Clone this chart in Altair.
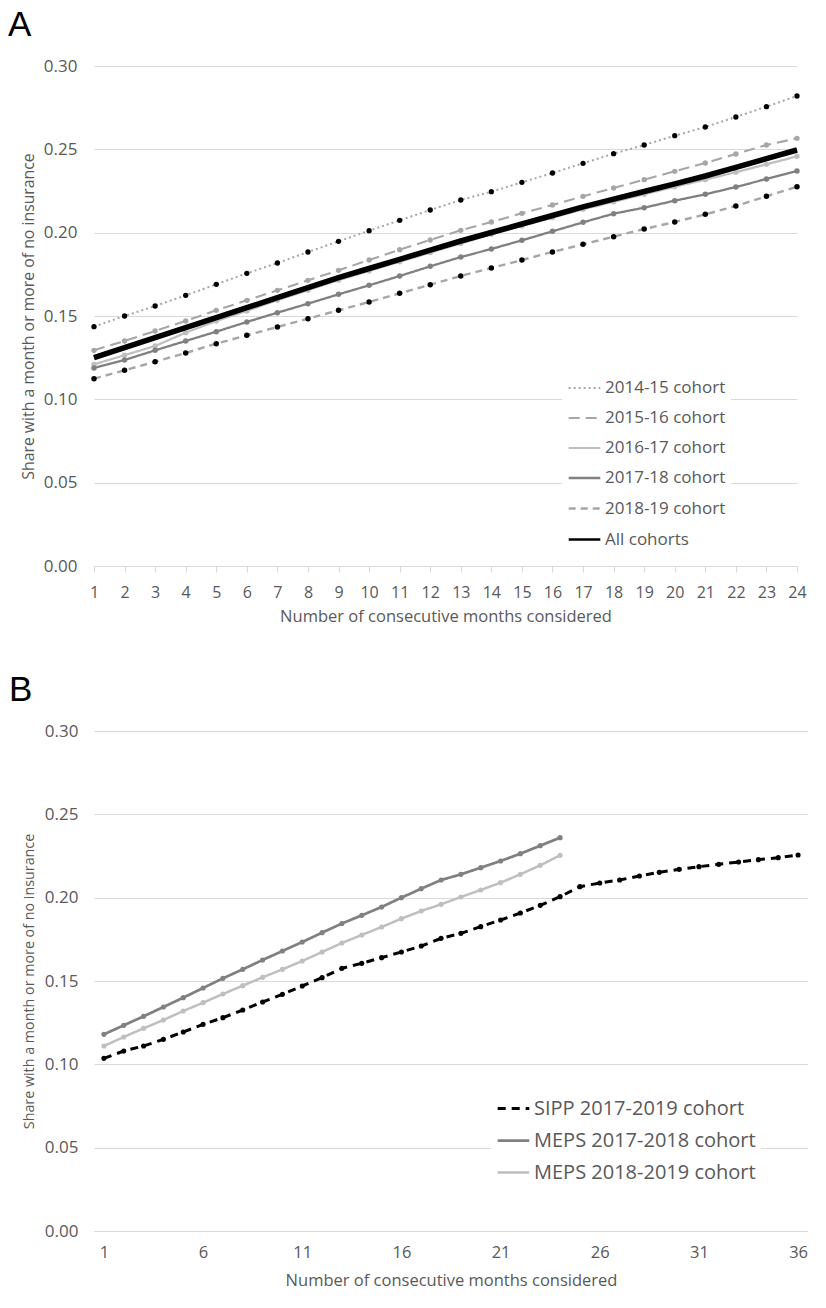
import altair as alt
import pandas as pd

# ---------------- Panel A data ----------------
months_a = list(range(1, 25))
series_a = ["2014-15 cohort", "2015-16 cohort", "2016-17 cohort",
            "2017-18 cohort", "2018-19 cohort", "All cohorts"]
c1415 = [0.1436, 0.150, 0.156, 0.1624, 0.169, 0.1756, 0.1818, 0.1884, 0.1948, 0.2012, 0.2074, 0.2136,
         0.2196, 0.2246, 0.2302, 0.2358, 0.2416, 0.2474, 0.2526, 0.2582, 0.2634, 0.2694, 0.2756, 0.282]
c1516 = [0.1294, 0.135, 0.141, 0.147, 0.1534, 0.1594, 0.1654, 0.1714, 0.1774, 0.1836, 0.1898, 0.1956,
         0.2014, 0.2064, 0.2116, 0.2166, 0.2218, 0.2268, 0.2318, 0.2368, 0.2418, 0.2472, 0.2526, 0.2566]
c1617 = [0.121, 0.1265, 0.132, 0.140, 0.147, 0.153, 0.1595, 0.1655, 0.1715, 0.177, 0.1825, 0.188,
         0.1935, 0.199, 0.204, 0.209, 0.214, 0.2185, 0.223, 0.2275, 0.2318, 0.2363, 0.241, 0.2458]
c1718 = [0.1188, 0.1236, 0.1294, 0.135, 0.1406, 0.1464, 0.152, 0.1574, 0.163, 0.1684, 0.174, 0.1798,
         0.1854, 0.1902, 0.1954, 0.2008, 0.2062, 0.2114, 0.215, 0.2192, 0.223, 0.2274, 0.2322, 0.237]
c1819 = [0.1124, 0.1174, 0.1226, 0.1278, 0.1334, 0.1384, 0.1434, 0.1484, 0.1534, 0.1584, 0.1636, 0.1688,
         0.174, 0.1788, 0.1836, 0.1884, 0.193, 0.1976, 0.2022, 0.2064, 0.211, 0.216, 0.2218, 0.2276]
call = [0.125, 0.131, 0.137, 0.143, 0.149, 0.155, 0.161, 0.167, 0.173, 0.1785, 0.184, 0.1895,
        0.195, 0.2001, 0.2052, 0.2103, 0.2155, 0.2201, 0.2247, 0.2293, 0.234, 0.2392, 0.2444, 0.2496]

# ---------------- Panel B data ----------------
months_b_sipp = list(range(1, 37))
months_b_meps = list(range(1, 25))
series_b = ["SIPP 2017-2019 cohort", "MEPS 2017-2018 cohort", "MEPS 2018-2019 cohort"]
sipp = [0.1036, 0.108, 0.111, 0.115, 0.1194, 0.124, 0.128, 0.1326, 0.1374, 0.142, 0.147, 0.152,
        0.1576, 0.1606, 0.164, 0.1674, 0.171, 0.1756, 0.1786, 0.1826, 0.1866, 0.1908, 0.1954, 0.2006,
        0.2066, 0.2088, 0.2106, 0.213, 0.2152, 0.217, 0.2186, 0.220, 0.2214, 0.2228, 0.224, 0.2256]
meps1718 = [0.118, 0.1234, 0.1288, 0.1344, 0.140, 0.1458, 0.1516, 0.157, 0.1626, 0.168, 0.1734, 0.179,
            0.1845, 0.1894, 0.1944, 0.200, 0.2054, 0.2106, 0.214, 0.218, 0.222, 0.2264, 0.2312, 0.236]
meps1819 = [0.111, 0.1164, 0.1216, 0.1266, 0.132, 0.137, 0.1422, 0.1472, 0.1522, 0.157, 0.162, 0.1674,
            0.1728, 0.1776, 0.1824, 0.1874, 0.192, 0.196, 0.2004, 0.2046, 0.209, 0.214, 0.2194, 0.2254]

y_ticks = [0.0, 0.05, 0.10, 0.15, 0.20, 0.25, 0.30]
x_ticks_b = [1, 6, 11, 16, 21, 26, 31, 36]

y_title = "Share with a month or more of no insurance"
x_title = "Number of consecutive months considered"

FONT = "Open Sans"
TXT = "#595959"
GRID = "#D9D9D9"

# ---------------- build tables ----------------
rows = []
for name, vals in zip(series_a, [c1415, c1516, c1617, c1718, c1819, call]):
    for m, v in zip(months_a, vals):
        rows.append({"month": m, "share": v, "series": name})
df_a = pd.DataFrame(rows)

rows = []
for name, ms, vals in zip(series_b, [months_b_sipp, months_b_meps, months_b_meps], [sipp, meps1718, meps1819]):
    for m, v in zip(ms, vals):
        rows.append({"month": m, "share": v, "series": name})
df_b = pd.DataFrame(rows)

# ---------------- Panel A ----------------
ya = alt.Y("share:Q", scale=alt.Scale(domain=[0, 0.30], nice=False),
           axis=alt.Axis(values=y_ticks, format=".2f", title=y_title, grid=True, gridColor=GRID,
                         domain=False, ticks=False, labelPadding=17, labelFontSize=17,
                         titleFontSize=15.8, titlePadding=7))
xa = alt.X("month:Q", scale=alt.Scale(domain=[1, 24], nice=False),
           axis=alt.Axis(values=months_a, title=x_title, grid=False, domainColor=GRID,
                         tickColor=GRID, tickSize=6, labelPadding=12, labelFontSize=16,
                         titleFontSize=16.5, titlePadding=8, labelFlush=False, labelOverlap=False))

legend_a = alt.Legend(title=None, orient="none", legendX=468, legendY=300, fillColor="white",
                      padding=5, symbolType="stroke", symbolSize=1000, labelFontSize=17,
                      labelColor=TXT, labelFont=FONT, rowPadding=5, labelOffset=3, labelLimit=0)

lines_a = alt.Chart(df_a).mark_line().encode(
    x=xa, y=ya,
    stroke=alt.Stroke("series:N", sort=series_a, legend=legend_a,
                      scale=alt.Scale(domain=series_a,
                                      range=["#A6A6A6", "#A6A6A6", "#BFBFBF", "#808080", "#A6A6A6", "#000000"])),
    strokeDash=alt.StrokeDash("series:N", sort=series_a, legend=legend_a,
                              scale=alt.Scale(domain=series_a,
                                              range=[[2, 3], [11, 6], [1, 0], [1, 0], [7, 5], [1, 0]])),
    strokeWidth=alt.StrokeWidth("series:N", sort=series_a, legend=legend_a,
                                scale=alt.Scale(domain=series_a, range=[2, 2.5, 2.5, 2.5, 2.5, 5.5])),
)

cohorts_a = series_a[:5]
points_a = alt.Chart(df_a).transform_filter(
    alt.FieldOneOfPredicate(field="series", oneOf=cohorts_a)
).mark_point(filled=True, opacity=1).encode(
    x=xa, y=ya,
    fill=alt.Fill("series:N", legend=None,
                  scale=alt.Scale(domain=cohorts_a,
                                  range=["#000000", "#A6A6A6", "#BFBFBF", "#808080", "#000000"])),
    size=alt.Size("series:N", legend=None,
                  scale=alt.Scale(domain=cohorts_a, range=[28, 30, 20, 18, 28])),
)

all_a = alt.Chart(df_a).transform_filter(
    alt.datum.series == "All cohorts"
).mark_line(color="#000000", strokeWidth=5.5).encode(x=xa, y=ya)

label_a = alt.Chart(alt.Data(values=[{"lab": "A"}])).mark_text(
    align="left", baseline="alphabetic", fontSize=35, font="Liberation Sans", color="#000000"
).encode(x=alt.value(-86), y=alt.value(-30), text="lab:N")

panel_a = alt.layer(lines_a, points_a, all_a, label_a).properties(width=703, height=500)

# ---------------- Panel B ----------------
yb = alt.Y("share:Q", scale=alt.Scale(domain=[0, 0.30], nice=False),
           axis=alt.Axis(values=y_ticks, format=".2f", title=y_title, grid=True, gridColor=GRID,
                         domain=False, ticks=False, labelPadding=16, labelFontSize=17,
                         titleFontSize=14.3, titlePadding=8))
xb = alt.X("month:Q", scale=alt.Scale(domain=[0.5, 36.5], nice=False),
           axis=alt.Axis(values=x_ticks_b, title=x_title, grid=False, domainColor=GRID,
                         ticks=False, labelPadding=13, labelFontSize=16.5, labelOverlap=False,
                         titleFontSize=16.5, titlePadding=12))

legend_b = alt.Legend(title=None, orient="none", legendX=397, legendY=355, fillColor="white",
                      padding=5, symbolType="stroke", symbolSize=1000, labelFontSize=20,
                      labelColor=TXT, labelFont=FONT, rowPadding=4, labelOffset=3, labelLimit=0)

lines_b = alt.Chart(df_b).mark_line().encode(
    x=xb, y=yb,
    stroke=alt.Stroke("series:N", sort=series_b, legend=legend_b,
                      scale=alt.Scale(domain=series_b, range=["#000000", "#808080", "#BFBFBF"])),
    strokeDash=alt.StrokeDash("series:N", sort=series_b, legend=legend_b,
                              scale=alt.Scale(domain=series_b, range=[[8, 6], [1, 0], [1, 0]])),
    strokeWidth=alt.StrokeWidth("series:N", sort=series_b, legend=legend_b,
                                scale=alt.Scale(domain=series_b, range=[3, 2.5, 2.5])),
)

points_b = alt.Chart(df_b).mark_point(filled=True, opacity=1, size=26).encode(
    x=xb, y=yb,
    fill=alt.Fill("series:N", legend=None,
                  scale=alt.Scale(domain=series_b, range=["#000000", "#808080", "#BFBFBF"])),
)

label_b = alt.Chart(alt.Data(values=[{"lab": "B"}])).mark_text(
    align="left", baseline="alphabetic", fontSize=35, font="Liberation Sans", color="#000000"
).encode(x=alt.value(-85), y=alt.value(-30), text="lab:N")

panel_b = alt.layer(lines_b, points_b, label_b).properties(width=714, height=500)

chart = alt.vconcat(panel_a, panel_b, spacing=48).resolve_scale(
    x="independent", y="independent", stroke="independent", strokeDash="independent",
    strokeWidth="independent", fill="independent", size="independent"
).resolve_legend(
    stroke="independent", strokeDash="independent", strokeWidth="independent"
).properties(
    padding={"left": 0, "top": 0, "right": 0, "bottom": 0}, background="white"
).configure_view(stroke=None).configure_axis(
    labelFont=FONT, titleFont=FONT, labelColor=TXT, titleColor=TXT, titleFontWeight="normal"
).configure_axisX(labelOverlap=False).configure_legend(labelFont=FONT)

chart.save("out.html", embed_options={"renderer": "svg", "actions": False})
